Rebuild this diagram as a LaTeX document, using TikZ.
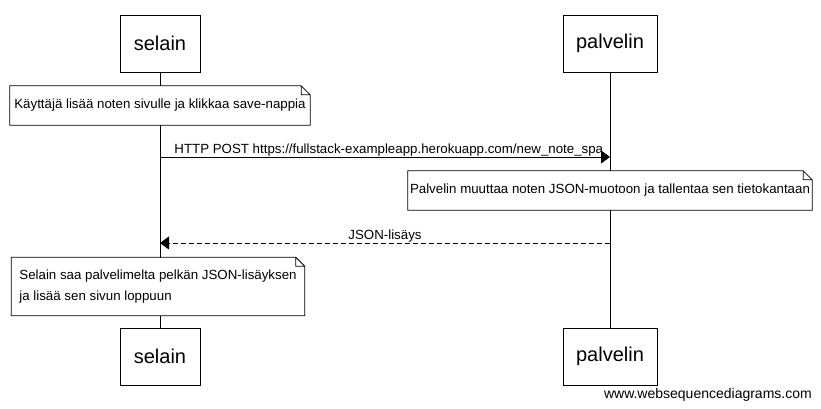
\documentclass[tikz,border=0pt]{standalone}
\usepackage{fontspec}
\setmainfont{Liberation Sans}
\usetikzlibrary{arrows.meta}

\begin{document}
\begin{tikzpicture}[x=1pt,y=-1pt,
    actor/.style={draw,fill=white,line width=0.8pt,minimum height=57pt,inner sep=0pt,font=\fontsize{20}{24}\selectfont},
    note/.style={fill=white,inner sep=0pt,font=\fontsize{13.3}{21}\selectfont,align=left},
    msg/.style={line width=0.8pt,-{Triangle[length=9pt,width=13pt]}},
    lbl/.style={font=\fontsize{13.3}{16}\selectfont,inner sep=0pt}]
  \useasboundingbox[fill=white] (0,0) rectangle (821,409);
  % actors
  \node[actor,minimum width=80pt] (selain)   at (160,43.5)  {selain};
  \node[actor,minimum width=94pt] (palvelin) at (610,43.5)  {palvelin};
  \node[actor,minimum width=80pt] (selainB)  at (160,356.5) {selain};
  \node[actor,minimum width=94pt] (palvelinB) at (610,356.5) {palvelin};
  \foreach \a/\b in {selain/selainB,palvelin/palvelinB}
    \draw[line width=0.8pt] (\a) -- (\b);
  % notes
  \node[note,minimum width=300pt,minimum height=39pt] (n1) at (160,105.5)
    {Käyttäjä lisää noten sivulle ja klikkaa save-nappia};
  \node[note,minimum width=404pt,minimum height=39pt] (n2) at (610,190.5)
    {Palvelin muuttaa noten JSON-muotoon ja tallentaa sen tietokantaan};
  \node[note,inner xsep=8pt,minimum height=58pt] (n3) at (158,286.5)
    {Selain saa palvelimelta pelkän JSON-lisäyksen\\ja lisää sen sivun loppuun};
  \foreach \n in {n1,n2,n3}
    \draw[line width=0.8pt] (\n.south west) -- (\n.north west) -- ([xshift=-9pt]\n.north east)
      -- ([yshift=-9pt]\n.north east) -- (\n.south east) -- cycle
      ([xshift=-9pt]\n.north east) |- ([yshift=-9pt]\n.north east);
  % messages
  \coordinate (m1s) at (160,157);
  \coordinate (m1p) at (610,157);
  \coordinate (m2s) at (160,243);
  \coordinate (m2p) at (610,243);
  \draw[msg] (m1s) -- (m1p)
    node[lbl,pos=0,anchor=base west,xshift=14pt,yshift=4pt] (l1)
    {HTTP POST https://fullstack-exampleapp.herokuapp.com/new\_note\_spa};
  \draw[msg,dash pattern=on 5pt off 3pt] (m2p) -- (m2s)
    node[lbl,midway,anchor=base,yshift=4pt] (l2) {JSON-lisäys};
  \node[lbl,anchor=base east,font=\fontsize{14}{16}\selectfont] (wsd) at (812,398)
    {www.websequencediagrams.com};
\end{tikzpicture}
\end{document}
